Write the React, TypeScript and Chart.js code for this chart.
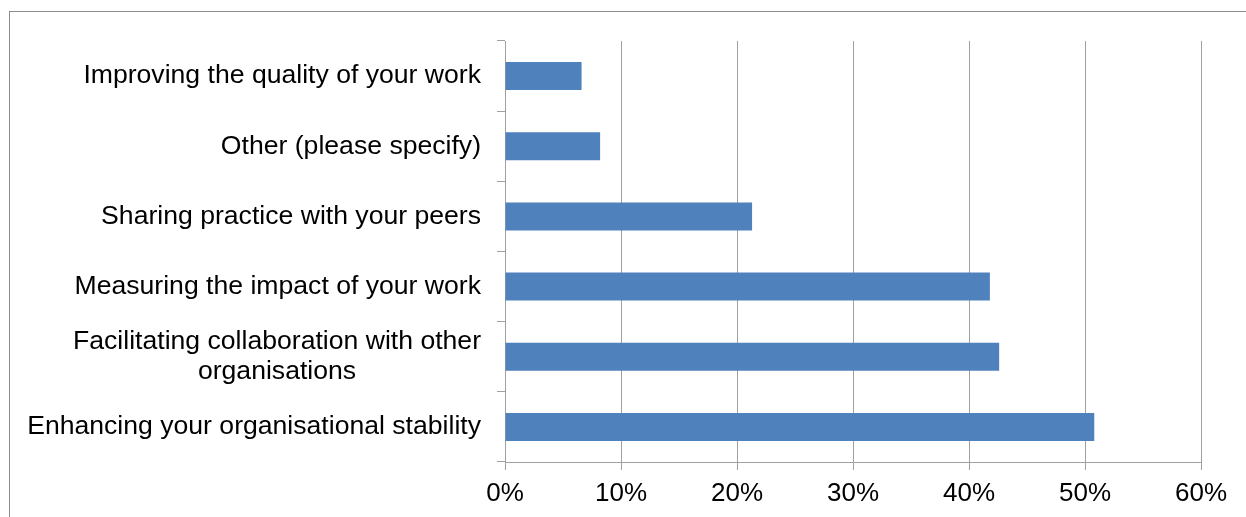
import React, { useEffect, useRef } from "react";
import { Chart, registerables } from "chart.js";

Chart.register(...registerables);

const categories: string[][] = [
  ["Improving the quality of your work"],
  ["Other (please specify)"],
  ["Sharing practice with your peers"],
  ["Measuring the impact of your work"],
  ["Facilitating collaboration with other", "organisations"],
  ["Enhancing your organisational stability"],
];
const values: number[] = [6.6, 8.2, 21.3, 41.8, 42.6, 50.8];
const xTicks: number[] = [0, 10, 20, 30, 40, 50, 60];

const FONT = "Liberation Sans, Arial, sans-serif";
const GRID = "#a0a0a0";

const yLabelPlugin = {
  id: "yLabelPlugin",
  afterDraw(chart: any) {
    const y = chart.scales.y;
    const ctx = chart.ctx;
    ctx.save();
    ctx.font = `26.6px ${FONT}`;
    ctx.fillStyle = "#000000";
    ctx.textAlign = "center";
    ctx.textBaseline = "middle";
    const lineH = 30;
    categories.forEach((lines, i) => {
      const cy = y.getPixelForValue(i);
      const maxW = Math.max(...lines.map((l) => ctx.measureText(l).width));
      const right = chart.chartArea.left - 24;
      const cx = right - maxW / 2;
      lines.forEach((l, j) => {
        ctx.fillText(l, cx, cy + (j - (lines.length - 1) / 2) * lineH);
      });
    });
    ctx.restore();
  },
};

export default function App() {
  const ref = useRef<HTMLCanvasElement | null>(null);
  useEffect(() => {
    if (!ref.current) return;
    const chart = new Chart(ref.current, {
      type: "bar",
      data: {
        labels: categories.map((c) => c.join(" ")),
        datasets: [
          {
            data: values,
            backgroundColor: "#4F81BD",
            borderWidth: 0,
            barPercentage: 0.4,
            categoryPercentage: 1,
          },
        ],
      },
      options: {
        indexAxis: "y",
        animation: false,
        responsive: false,
        maintainAspectRatio: false,
        layout: { padding: { top: 41, right: 45, left: 0, bottom: 0 } },
        plugins: { legend: { display: false }, tooltip: { enabled: false } },
        scales: {
          x: {
            min: 0,
            max: 60,
            afterBuildTicks: (s: any) => {
              s.ticks = xTicks.map((v) => ({ value: v }));
            },
            afterFit: (s: any) => {
              s.height = 55;
            },
            grid: {
              color: GRID,
              lineWidth: 1,
              drawTicks: true,
              tickLength: 8,
              tickColor: GRID,
            },
            border: { display: true, color: GRID, width: 1 },
            ticks: {
              color: "#000000",
              font: { family: FONT, size: 26 },
              padding: 8,
              maxRotation: 0,
              callback: (v: any) => `${v}%`,
            },
          },
          y: {
            offset: true,
            afterFit: (s: any) => {
              s.width = 505;
            },
            grid: {
              drawOnChartArea: false,
              drawTicks: true,
              tickLength: 8,
              tickColor: GRID,
              offset: true,
            },
            border: { display: true, color: GRID, width: 1 },
            ticks: { display: false },
          },
        },
      },
      plugins: [yLabelPlugin],
    });
    return () => chart.destroy();
  }, []);

  return (
    <div
      style={{
        position: "absolute",
        left: 0,
        top: 0,
        width: 1246,
        height: 517,
        overflow: "hidden",
        background: "#ffffff",
      }}
    >
      <div
        style={{
          position: "absolute",
          left: 9,
          top: 11,
          width: 1300,
          height: 600,
          border: "1px solid #8c8c8c",
          boxSizing: "border-box",
        }}
      />
      <canvas
        ref={ref}
        width={1246}
        height={517}
        style={{ position: "absolute", left: 0, top: 0, width: 1246, height: 517 }}
      />
    </div>
  );
}
